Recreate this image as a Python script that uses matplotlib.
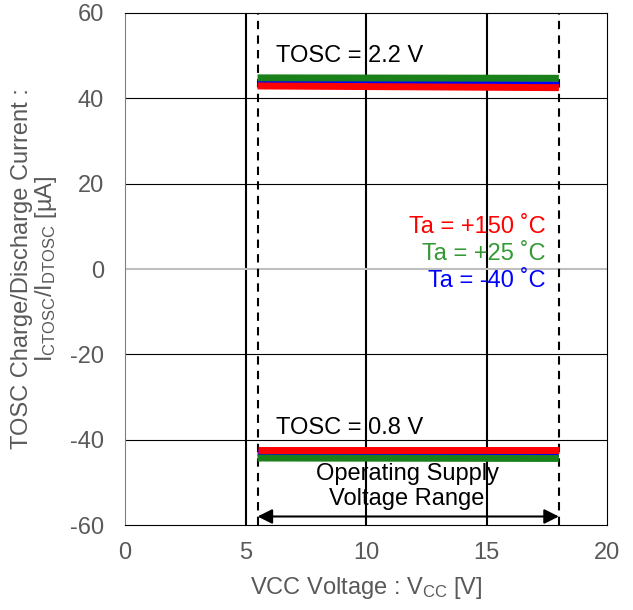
import matplotlib
matplotlib.use("Agg")
import matplotlib.pyplot as plt

plt.rcParams['font.family'] = ['Liberation Sans', 'DejaVu Sans']
plt.rcParams['mathtext.fontset'] = 'custom'
plt.rcParams['mathtext.rm'] = 'Liberation Sans'
plt.rcParams['mathtext.it'] = 'Liberation Sans'
plt.rcParams['axes.unicode_minus'] = False

vcc = [5.5, 18]
# TOSC = 2.2 V (charge)
hi_150 = [42.9, 42.5]
hi_25 = [44.8, 44.7]
hi_m40 = [43.5, 43.2]
# TOSC = 0.8 V (discharge)
lo_150 = [-42.3, -42.3]
lo_25 = [-44.3, -44.4]
lo_m40 = [-43.1, -43.3]

temps = ['Ta = +150 ˚C', 'Ta = +25 ˚C', 'Ta = -40 ˚C']
colors = ['#ff0000', '#339933', '#0000ff']
line_colors = ['#ff0000', '#1a801a', '#0000ff']

fig = plt.figure(figsize=(6.33, 6.10), dpi=100)
ax = fig.add_axes([0.1975, 0.1393, 0.7615, 0.8394])

ax.set_xlim(0, 20)
ax.set_ylim(-60, 60)
ax.set_xticks([0, 5, 10, 15, 20])
ax.set_yticks([-60, -40, -20, 0, 20, 40, 60])

for x in [5, 10, 15]:
    ax.axvline(x, color='black', lw=1.5, zorder=1)
for y in [-40, -20, 20, 40]:
    ax.axhline(y, color='black', lw=0.8, zorder=1)
ax.axhline(0, color='#bfbfbf', lw=1.5, zorder=1)
for x in vcc:
    ax.axvline(x, color='black', lw=1.5, ls=(0, (4, 3)), zorder=1)

kw = dict(lw=5, solid_capstyle='butt')
ax.plot(vcc, hi_m40, color=line_colors[2], zorder=3, **kw)
ax.plot(vcc, hi_150, color=line_colors[0], zorder=4, **kw)
ax.plot(vcc, hi_25, color=line_colors[1], zorder=3, **kw)
ax.plot(vcc, lo_m40, color=line_colors[2], zorder=3, **kw)
ax.plot(vcc, lo_25, color=line_colors[1], zorder=3, **kw)
ax.plot(vcc, lo_150, color=line_colors[0], zorder=4, **kw)

fs = 17
ax.text(6.25, 50, 'TOSC = 2.2 V', fontsize=fs, va='center', ha='left')
ax.text(6.25, -37.3, 'TOSC = 0.8 V', fontsize=fs, va='center', ha='left')

for t, c, y in zip(temps, colors, [9.8, 3.5, -2.8]):
    ax.text(17.45, y, t, color=c, fontsize=fs, ha='right', va='center')

ax.text(11.7, -48.0, 'Operating Supply', fontsize=fs, ha='center', va='center')
ax.text(11.7, -54.0, 'Voltage Range', fontsize=fs, ha='center', va='center')
ax.annotate('', xy=(vcc[0], -58), xytext=(vcc[1], -58),
            arrowprops=dict(arrowstyle='<|-|>', color='black', lw=1.5,
                            mutation_scale=22, shrinkA=0, shrinkB=0))

ax.tick_params(labelsize=fs, labelcolor='#595959', length=0)
ax.tick_params(axis='y', pad=15)
ax.tick_params(axis='x', pad=12)
for s in ['top', 'right', 'bottom']:
    ax.spines[s].set_color('black')
ax.spines['left'].set_color('#808080')

ax.set_xlabel('VCC Voltage : V$_{\\mathrm{CC}}$ [V]', fontsize=fs, color='#595959', labelpad=8)
ax.set_ylabel('TOSC Charge/Discharge Current :\nI$_{\\mathrm{CTOSC}}$/I$_{\\mathrm{DTOSC}}$ [µA]',
              fontsize=fs, color='#595959', linespacing=1.0, labelpad=8)

fig.savefig('out.png', dpi=100)
